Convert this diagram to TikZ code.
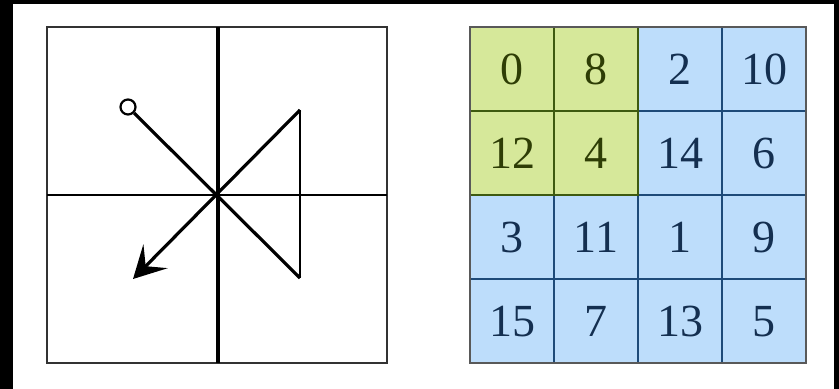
\documentclass[tikz,border=0pt]{standalone}
\usepackage{fontspec}
\setmainfont{Liberation Serif}
\usepackage{tikz}
\usetikzlibrary{positioning, arrows.meta}

\definecolor{pgreen}{HTML}{D6E89A}
\definecolor{pgreenline}{HTML}{3E5A10}
\definecolor{pgreentext}{HTML}{2E3D05}
\definecolor{pblue}{HTML}{BDDDFB}
\definecolor{pblueline}{HTML}{1E4A78}
\definecolor{pbluetext}{HTML}{142F50}

\begin{document}
\begin{tikzpicture}[
  x=0.5pt, y=-0.5pt,
  font=\fontsize{23}{23}\selectfont,
  frame/.style={draw=black!80, line width=1.1pt},
  scanline/.style={line width=1.6pt},
  cellg/.style={draw=pgreenline, fill=pgreen, text=pgreentext, line width=1.2pt,
    minimum size=42pt, inner sep=0pt, outer sep=0pt, text depth=-2pt},
  cellb/.style={draw=pblueline, fill=pblue, text=pbluetext, line width=1.1pt,
    minimum size=42pt, inner sep=0pt, outer sep=0pt, text depth=-2pt},
]
% background
\fill[black] (0,0) rectangle (839,389);
\fill[white] (13,4) rectangle (834,389);
\useasboundingbox (0,0) rectangle (839,389);

% left panel: quadrant frame
\draw[frame] (47,27) rectangle (387,363);
\draw[line width=1.7pt] (218,27) -- (218,363);
\draw[line width=1.1pt] (47,195) -- (387,195);

% scan path
\node[circle, draw, fill=white, line width=1.1pt, minimum size=7.5pt, inner sep=0pt] (start) at (128,107) {};
\coordinate (topR) at (300,110);
\coordinate (botR) at (300,278);
\coordinate (tip) at (133,279);
\draw[scanline] (start) -- (botR);
\draw[line width=1pt] (botR) -- (topR);
\draw[scanline, -{Stealth[length=16pt, width=17pt, inset=7pt]}] (topR) -- (tip);

% right panel: 4x4 order grid
\foreach \row/\vals in {0/{0,8,2,10}, 1/{12,4,14,6}, 2/{3,11,1,9}, 3/{15,7,13,5}} {
  \foreach \v [count=\col from 0] in \vals {
    \pgfmathtruncatemacro{\isgreen}{(\row<2)&&(\col<2)}
    \ifnum\isgreen=0
      \node[cellb] (c-\row-\col) at (512+84*\col, 69+84*\row) {\v};
    \fi
  }
}
\foreach \row/\vals in {0/{0,8}, 1/{12,4}} {
  \foreach \v [count=\col from 0] in \vals {
    \node[cellg] (c-\row-\col) at (512+84*\col, 69+84*\row) {\v};
  }
}
\draw[draw=black!65, line width=0.9pt] (c-0-0.north west) rectangle (c-3-3.south east);
\end{tikzpicture}
\end{document}
